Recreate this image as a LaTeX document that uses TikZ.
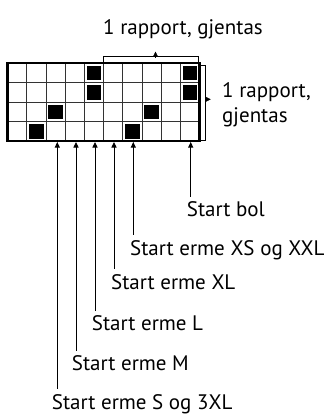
\documentclass[tikz,border=0pt]{standalone}
\usepackage{fontspec}
\setmainfont{PT Sans}
\usetikzlibrary{arrows.meta}
\begin{document}
\begin{tikzpicture}[x=1pt,y=1pt,
    lbl/.style={inner sep=0pt, anchor=base west, text height=20pt, font=\fontsize{21}{25}\selectfont},
    arr/.style={-{Triangle[width=5pt,length=5.5pt]}, line width=0.9pt},
    tick/.style={line width=0.9pt}]
    \useasboundingbox (0,0) rectangle (334,-417);

    % rutenett med ruter
    \foreach \i in {1,...,9}
        \draw[line width=0.8pt, black!80] (7.5+\i*19.2,-63.4) -- ++(0,-77.6);
    \foreach \j in {1,2,3}
        \draw[line width=0.8pt, black!80] (7.5,-63.4-\j*19.4) -- ++(192,0);
    \foreach \c/\r in {5/1,10/1,5/2,10/2,3/3,8/3,2/4,7/4}
        \fill (7.5+\c*19.2-19.2+2.4,-63.4-\r*19.4+19.4-2.4) rectangle ++(14.4,-14.6);
    \draw[line width=2.2pt] (7.5,-63.4) rectangle (199.5,-141);

    % klammer
    \coordinate (t) at (155.5,-56.7);
    \coordinate (r) at (205.7,-99.3);
    \draw[tick] (103.5,-63.4) -- (103.5,-56.7) -- (198.5,-56.7) -- (198.5,-63.4);
    \draw[tick] (199.5,-65) -- (205.7,-65) -- (205.7,-140) -- (199.5,-140);
    \draw[-{Triangle[width=5pt,length=5pt]}] (t) -- ++(0,5);
    \draw[-{Triangle[width=5pt,length=5pt]}] (r) -- ++(5,0);

    \node[lbl] (top) at (103,-35) {1 rapport, gjentas};
    \node[inner sep=0pt, anchor=north west, align=left, font=\fontsize{21}{25}\selectfont] (side) at (222,-82) {1 rapport,\\gjentas};

    % startpunkter
    \coordinate (b1) at (57.3,-142);
    \coordinate (b2) at (76,-142);
    \coordinate (b3) at (95,-142);
    \coordinate (b4) at (114,-142);
    \coordinate (b5) at (133.3,-142);
    \coordinate (b6) at (190.7,-142);

    \node[lbl] (s1) at (51.7,-409) {Start erme S og 3XL};
    \node[lbl] (s2) at (71.7,-370.7) {Start erme M};
    \node[lbl] (s3) at (91.7,-330.7) {Start erme L};
    \node[lbl] (s4) at (111,-289) {Start erme XL};
    \node[lbl] (s5) at (130,-255) {Start erme XS og XXL};
    \node[lbl] (s6) at (186.7,-216.7) {Start bol};

    \draw[arr] (b1 |- s1.north) -- (b1);
    \draw[arr] (b2 |- s2.north) -- (b2);
    \draw[arr] (b3 |- s3.north) -- (b3);
    \draw[arr] (b4 |- s4.north) -- (b4);
    \draw[arr] (b5 |- s5.north) -- (b5);
    \draw[arr] (b6 |- s6.north) -- (b6);
\end{tikzpicture}
\end{document}
